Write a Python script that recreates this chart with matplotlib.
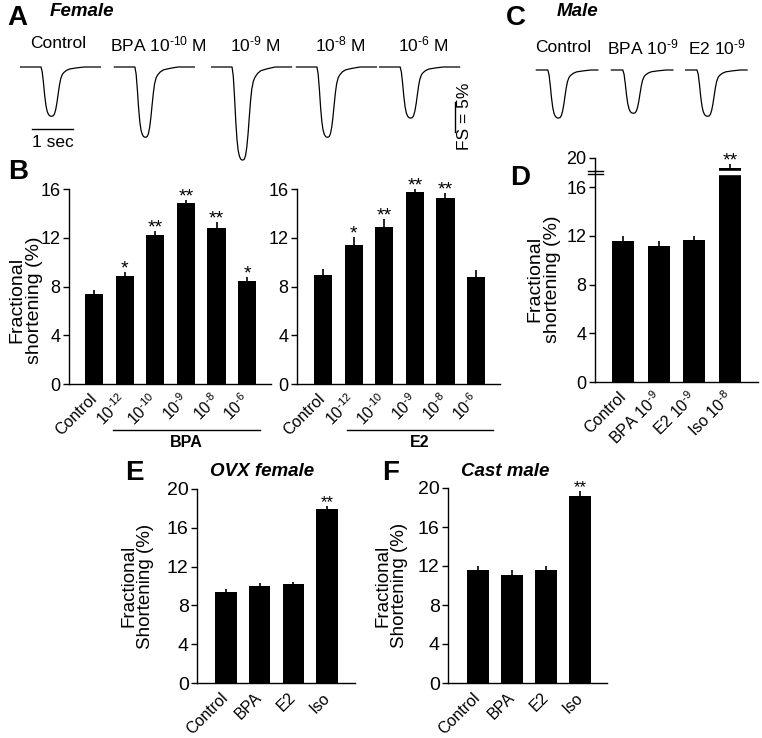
import numpy as np
import matplotlib
matplotlib.use('Agg')
import matplotlib.pyplot as plt
import matplotlib.transforms as mtransforms

plt.rcParams['font.family'] = ['Liberation Sans', 'DejaVu Sans']
plt.rcParams['mathtext.fontset'] = 'custom'
plt.rcParams['mathtext.rm'] = 'Liberation Sans'
plt.rcParams['mathtext.it'] = 'Liberation Sans:italic'
plt.rcParams['mathtext.bf'] = 'Liberation Sans:bold'

# --- data -------------------------------------------------------------
# cell shortening traces (A, C): depth in % FS, common twitch shape
female_labels = ['Control', r'BPA 10$^{\text{-10}}$ M', r'10$^{\text{-9}}$ M',
                 r'10$^{\text{-8}}$ M', r'10$^{\text{-6}}$ M']
female_depth = [8.2, 11.7, 15.5, 11.7, 8.5]
male_labels = ['Control', r'BPA 10$^{\text{-9}}$', r'E2 10$^{\text{-9}}$']
male_depth = [8.0, 7.2, 7.7]
twitch_t = [0.00, 0.03, 0.06, 0.09, 0.12, 0.15, 0.18, 0.21, 0.24, 0.27, 0.30,
            0.33, 0.36, 0.39, 0.42, 0.45, 0.48, 0.52, 0.56, 0.62, 0.70, 0.85, 1.05]
twitch_f = [0.00, 0.10, 0.32, 0.58, 0.78, 0.90, 0.96, 0.99, 1.00, 1.00, 0.99,
            0.95, 0.86, 0.72, 0.54, 0.37, 0.24, 0.15, 0.11, 0.07, 0.04, 0.02, 0.00]

# B: female, BPA and E2 dose response
b_labels = ['Control', r'10$^{\text{-12}}$', r'10$^{\text{-10}}$', r'10$^{\text{-9}}$',
            r'10$^{\text{-8}}$', r'10$^{\text{-6}}$']
bpa_fs = [7.4, 8.86, 12.2, 14.82, 12.77, 8.48]
bpa_err = [0.33, 0.36, 0.36, 0.27, 0.5, 0.33]
bpa_sig = ['', '*', '**', '**', '**', '*']
e2_fs = [8.94, 11.38, 12.91, 15.78, 15.23, 8.8]
e2_err = [0.47, 0.71, 0.6, 0.22, 0.41, 0.55]
e2_sig = ['', '*', '**', '**', '**', '']

# D: male
d_labels = ['Control', r'BPA 10$^{\text{-9}}$', r'E2 10$^{\text{-9}}$', r'Iso 10$^{\text{-8}}$']
male_fs = [11.58, 11.15, 11.64, 18.6]
male_err = [0.38, 0.44, 0.33, 0.6]
male_sig = ['', '', '', '**']

# E, F: OVX female / castrated male
ef_labels = ['Control', 'BPA', 'E2', 'Iso']
ovx_fs = [9.43, 10.05, 10.19, 17.9]
ovx_err = [0.27, 0.24, 0.27, 0.38]
cast_fs = [11.56, 11.11, 11.62, 19.18]
cast_err = [0.44, 0.44, 0.34, 0.51]
ef_sig = ['', '', '', '**']

# --- layout -----------------------------------------------------------
W, H = 762, 738
fig = plt.figure(figsize=(W / 100, H / 100), dpi=100)


def box(x0, y0, x1, y1):
    return [x0 / W, 1 - y1 / H, (x1 - x0) / W, (y1 - y0) / H]


def ftext(x, y, s, **kw):
    fig.text(x / W, 1 - y / H, s, **kw)


def draw_traces(ax, onsets, depths, pre, post):
    for t0, d in zip(onsets, depths):
        t = np.concatenate(([t0 - pre], t0 + np.array(twitch_t), [t0 + post]))
        y = np.concatenate(([0], -d * np.array(twitch_f), [0]))
        ax.plot(t, y, color='black', lw=0.9)


def bar_panel(ax, vals, errs, sig, labels, width, tsize, ssize, lsize):
    x = np.arange(len(vals))
    ax.bar(x, vals, width, color='black', zorder=2)
    ax.errorbar(x, vals, yerr=errs, fmt='none', ecolor='black', elinewidth=1.2,
                capsize=0, zorder=2)
    for i in range(len(vals)):
        if sig[i]:
            ax.annotate(sig[i], (i, vals[i] + errs[i]), xytext=(0, -1.0),
                        textcoords='offset points', ha='center', va='baseline',
                        fontsize=ssize, annotation_clip=False)
    for s in ['top', 'right']:
        ax.spines[s].set_visible(False)
    for s in ['left', 'bottom']:
        ax.spines[s].set_linewidth(1.0)
    ax.set_xticks(x)
    ax.set_xticklabels(labels, rotation=45, ha='right', va='center',
                       rotation_mode='anchor', fontsize=lsize)
    ax.tick_params(axis='x', length=0, pad=9)
    ax.tick_params(axis='y', direction='out', length=4, width=1, labelsize=tsize, pad=2)


# A: female traces
axA = fig.add_axes(box(0, 55, 480, 170))
axA.set_xlim(0, 480 / 41)
axA.set_ylim(-(170 - 67) / 6, (67 - 55) / 6)
axA.axis('off')
draw_traces(axA, [1.0, 3.29, 5.66, 7.73, 9.76], female_depth, 0.5, 1.45)
axA.plot([0.78, 1.78], [-10.33, -10.33], color='black', lw=1)
axA.text(1.28, -11.4, '1 sec', ha='center', va='top', fontsize=12.5)
axA.plot([11.1, 11.1], [-5.83, -10.83], color='black', lw=1)
axA.text(11.33, -8.2, 'FS = 5%', rotation=90, ha='center', va='center', fontsize=12.5)
for lab, xp in zip(female_labels, [58, 158, 255, 340, 423]):
    ftext(xp, 44, lab, ha='center', va='center', fontsize=12.5)

# C: male traces
axC = fig.add_axes(box(490, 55, 762, 170))
axC.set_xlim(0, 272 / 41)
axC.set_ylim(-(170 - 70) / 6, (70 - 55) / 6)
axC.axis('off')
draw_traces(axC, [1.41, 3.24, 5.05], male_depth, 0.28, 1.22)
for lab, xp in zip(male_labels, [563, 643, 717]):
    ftext(xp, 47, lab, ha='center', va='center', fontsize=12.5)

# B: two bar charts
axB1 = fig.add_axes(box(69, 189, 271, 384))
bar_panel(axB1, bpa_fs, bpa_err, bpa_sig, b_labels, 0.59, 13, 14, 11.5)
axB1.set_xlim(-0.82, 5.78)
axB1.set_ylim(0, 16)
axB1.set_yticks([0, 4, 8, 12, 16])
axB1.set_ylabel('Fractional\nshortening (%)', fontsize=14, linespacing=1.0)
axB1.yaxis.set_label_coords(-0.13, 0.43)

axB2 = fig.add_axes(box(297, 189, 500, 384))
bar_panel(axB2, e2_fs, e2_err, e2_sig, b_labels, 0.59, 13, 14, 11.5)
axB2.set_xlim(-0.85, 5.78)
axB2.set_ylim(0, 16)
axB2.set_yticks([0, 4, 8, 12, 16])

for ax, x0, x1, name in [(axB1, 0.62, 5.42, 'BPA'), (axB2, 0.78, 5.56, 'E2')]:
    tr = mtransforms.blended_transform_factory(ax.transData, ax.transAxes)
    ax.plot([x0, x1], [-0.236, -0.236], transform=tr, color='black', lw=1, clip_on=False)
    ax.text((x0 + x1) / 2, -0.30, name, transform=tr, ha='center', va='center',
            fontsize=11.5, fontweight='bold')

# D: male bars with broken axis above 16
comp = 0.6


def fwd(v):
    v = np.asarray(v, dtype=float)
    return np.where(v <= 16, v, 16 + (v - 16) * comp)


def inv(u):
    u = np.asarray(u, dtype=float)
    return np.where(u <= 16, u, 16 + (u - 16) / comp)


axD = fig.add_axes(box(595, 158, 758, 382))
axD.set_yscale('function', functions=(fwd, inv))
bar_panel(axD, male_fs, male_err, male_sig, d_labels, 0.62, 13, 14, 11.5)
axD.set_xlim(-0.79, 3.79)
axD.set_ylim(0, 20)
axD.set_yticks([0, 4, 8, 12, 16, 20])
axD.set_yticklabels(['0', '4', '8', '12', '16', '20'])
axD.minorticks_off()
axD.set_ylabel('Fractional\nshortening (%)', fontsize=14, linespacing=1.0)
axD.yaxis.set_label_coords(-0.21, 0.46)
axD.fill_between([3 - 0.36, 3 + 0.36], 17.75, 18.17, color='white', zorder=3)
trD = mtransforms.blended_transform_factory(axD.transAxes, axD.transData)
for yb in [17.75, 18.17]:
    axD.plot([-0.045, 0.05], [yb, yb], transform=trD, color='black', lw=1, clip_on=False)

# E, F
axE = fig.add_axes(box(197, 489, 355, 683))
bar_panel(axE, ovx_fs, ovx_err, ef_sig, ef_labels, 0.64, 14, 12, 11.5)
axE.set_xlim(-0.86, 3.83)
axE.set_ylim(0, 20)
axE.set_yticks([0, 4, 8, 12, 16, 20])
axE.set_ylabel('Fractional\nShortening (%)', fontsize=13.5, linespacing=1.0)
axE.yaxis.set_label_coords(-0.27, 0.5)

axF = fig.add_axes(box(448, 488, 607, 683))
bar_panel(axF, cast_fs, cast_err, ef_sig, ef_labels, 0.64, 14, 12, 11.5)
axF.set_xlim(-0.88, 3.79)
axF.set_ylim(0, 20)
axF.set_yticks([0, 4, 8, 12, 16, 20])
axF.set_ylabel('Fractional\nShortening (%)', fontsize=13.5, linespacing=1.0)
axF.yaxis.set_label_coords(-0.25, 0.5)

# panel letters and titles
for letter, xp, yp in [('A', 17, 18), ('C', 516, 18), ('B', 18, 172),
                       ('D', 520, 178), ('E', 134, 473), ('F', 391, 473)]:
    ftext(xp, yp, letter, ha='center', va='center', fontsize=20, fontweight='bold')
for title, xp, yp in [('Female', 82, 12), ('Male', 577, 12),
                      ('OVX female', 262, 472), ('Cast male', 505, 472)]:
    ftext(xp, yp, title, ha='center', va='center', fontsize=13.5,
          fontweight='bold', fontstyle='italic')

fig.savefig('out.png', dpi=100)
